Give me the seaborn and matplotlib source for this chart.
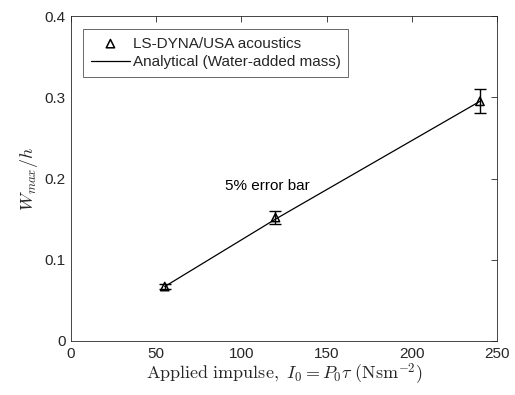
import matplotlib
matplotlib.use("Agg")
import matplotlib.pyplot as plt
import seaborn as sns
import numpy as np
import pandas as pd
from matplotlib.ticker import FuncFormatter

# Data
impulse = [55, 120, 240]
wmax_sim = [0.067, 0.152, 0.295]
wmax_analytical = [0.067, 0.150, 0.295]
err_frac = 0.05
x_ticks = [0, 50, 100, 150, 200, 250]
y_ticks = [0, 0.1, 0.2, 0.3, 0.4]

sns.set_theme(style="white")
plt.rcParams['font.family'] = ['Liberation Sans', 'DejaVu Sans']
plt.rcParams['mathtext.fontset'] = 'cm'

fig = plt.figure(figsize=(5.15, 3.95), dpi=100)
ax = fig.add_axes([71/515, 1-341/395, (497-71)/515, (341-16)/395])

df = pd.DataFrame({"x": impulse, "sim": wmax_sim, "ana": wmax_analytical})
err = [v * err_frac for v in wmax_sim]

ax.errorbar(df["x"], df["sim"], yerr=err, fmt='none', ecolor='black',
            elinewidth=1.0, capsize=4, capthick=1.0, zorder=3)
sns.scatterplot(data=df, x="x", y="sim", marker='^', s=36, facecolor='none',
                edgecolor='black', linewidth=1.1, ax=ax, zorder=4,
                label='LS-DYNA/USA acoustics')
sns.lineplot(data=df, x="x", y="ana", color='black', linewidth=0.9, ax=ax,
             label='Analytical (Water-added mass)', zorder=2)

ax.set_xlim(0, 250)
ax.set_ylim(0, 0.4)
ax.set_xticks(x_ticks)
ax.set_yticks(y_ticks)
ax.yaxis.set_major_formatter(FuncFormatter(lambda v, p: '0' if v == 0 else f'{v:g}'))
ax.tick_params(direction='in', top=True, right=True, length=4, width=0.6,
               labelsize=11, colors='#262626', pad=4)
for s in ax.spines.values():
    s.set_color('#262626')
    s.set_linewidth(0.6)

ax.set_xlabel(r'$\mathrm{Applied\ impulse,}\ I_0 = P_0\tau\ (\mathrm{Nsm}^{-2})$',
              fontsize=13, color='#262626', labelpad=1)
ax.set_ylabel(r'$W_{max}/h$', fontsize=13, color='#262626', labelpad=3)

ax.text(90.5, 0.191, '5% error bar', fontsize=11, va='center', ha='left', color='black')

leg = ax.legend(loc='upper left', bbox_to_anchor=(0.028, 0.96), fontsize=11,
                frameon=True, fancybox=False, edgecolor='#262626',
                borderpad=0.5, labelspacing=0.3, handlelength=2.6, handletextpad=0.15,
                borderaxespad=0)
leg.get_frame().set_linewidth(0.6)

fig.savefig('out.png', dpi=100)
